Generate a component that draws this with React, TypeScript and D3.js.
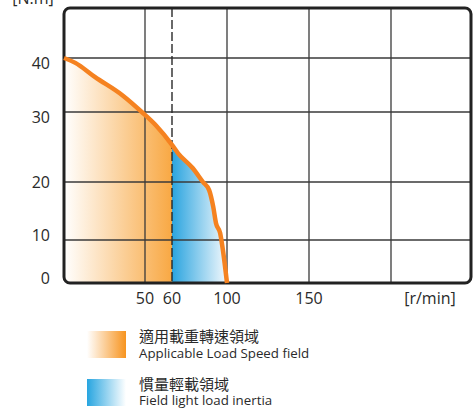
import React from "react";
import * as d3 from "d3";

const speedData = [0, 7, 19, 36, 48, 54, 60, 64.4, 75, 82.5, 87, 90, 92, 95, 97, 100];
const torqueData = [40, 39.1, 36.5, 33.1, 30, 28.1, 25.3, 24.1, 22, 20, 18.6, 15.7, 12.9, 11.2, 7.7, 0];

const xGridValues = [50, 100, 150, 200];
const xDashedValue = 60;
const yGridValues = [10, 20, 30, 40];
const xTickLabels = ["50", "60", "100", "150"];
const xTickValues = [50, 60, 100, 150];
const yTickLabels = ["0", "10", "20", "30", "40"];
const yTickValues = [0, 10, 20, 30, 40];
const yLabelOffsets = [-5, -5, 0, 5, 5];

const legendLabelsZh = ["適用載重轉速領域", "慣量輕載領域"];
const legendLabelsEn = ["Applicable Load Speed field", "Field light load inertia"];

const W = 473;
const H = 409;

export default function App() {
  const x = d3
    .scaleLinear()
    .domain([0, 50, 60, 100, 150, 200, 250])
    .range([64, 145, 172, 227, 309, 391, 471]);
  const y = d3
    .scaleLinear()
    .domain([0, 10, 20, 30, 40, 50])
    .range([283, 240, 182, 112, 58, 8]);

  const pts: [number, number][] = speedData.map((s, i) => [s, torqueData[i]]);
  const line = d3
    .line<[number, number]>()
    .x((d) => x(d[0]))
    .y((d) => y(d[1]))
    .curve(d3.curveMonotoneX);
  const area = d3
    .area<[number, number]>()
    .x((d) => x(d[0]))
    .y0(y(0))
    .y1((d) => y(d[1]))
    .curve(d3.curveMonotoneX);

  const font = "'Open Sans', 'Noto Sans', sans-serif";
  const cjk = "'Noto Sans CJK TC', 'Noto Sans CJK SC', sans-serif";

  return (
    <svg
      width={W}
      height={H}
      style={{ position: "fixed", left: 0, top: 0 }}
      xmlns="http://www.w3.org/2000/svg"
    >
      <defs>
        <linearGradient id="gOrange" gradientUnits="userSpaceOnUse" x1={x(0)} x2={x(60)} y1={0} y2={0}>
          <stop offset="0" stopColor="#ffffff" />
          <stop offset="1" stopColor="#f8a843" />
        </linearGradient>
        <linearGradient id="gBlue" gradientUnits="userSpaceOnUse" x1={x(60)} x2={x(100)} y1={0} y2={0}>
          <stop offset="0" stopColor="#2aa4df" />
          <stop offset="1" stopColor="#f4f9fd" />
        </linearGradient>
        <linearGradient id="lgOrange" x1="0" x2="1" y1="0" y2="0">
          <stop offset="0" stopColor="#ffffff" />
          <stop offset="1" stopColor="#f7941f" />
        </linearGradient>
        <linearGradient id="lgBlue" x1="0" x2="1" y1="0" y2="0">
          <stop offset="0" stopColor="#27a5e0" />
          <stop offset="1" stopColor="#ffffff" />
        </linearGradient>
        <clipPath id="cOrange">
          <rect x={x(0)} y={0} width={x(60) - x(0)} height={H} />
        </clipPath>
        <clipPath id="cBlue">
          <rect x={x(60)} y={0} width={x(100) - x(60) + 5} height={H} />
        </clipPath>
      </defs>

      <rect x={0} y={0} width={W} height={H} fill="#ffffff" />

      {/* fills */}
      <path d={area(pts) || ""} fill="url(#gOrange)" clipPath="url(#cOrange)" />
      <path d={area(pts) || ""} fill="url(#gBlue)" clipPath="url(#cBlue)" />

      {/* grid */}
      {yGridValues.map((v) => (
        <line key={"h" + v} x1={x(0)} x2={x(250)} y1={y(v)} y2={y(v)} stroke="#3a3a3a" strokeWidth={1.3} />
      ))}
      {xGridValues.map((v) => (
        <line key={"v" + v} x1={x(v)} x2={x(v)} y1={y(50)} y2={y(0)} stroke="#3a3a3a" strokeWidth={1.3} />
      ))}
      <line
        x1={x(xDashedValue)}
        x2={x(xDashedValue)}
        y1={y(50)}
        y2={y(0)}
        stroke="#2a2a2a"
        strokeWidth={1.4}
        strokeDasharray="9 3"
      />

      {/* frame */}
      <rect
        x={x(0)}
        y={y(50)}
        width={x(250) - x(0)}
        height={y(0) - y(50)}
        rx={6}
        ry={6}
        fill="none"
        stroke="#222222"
        strokeWidth={3}
      />

      {/* curve */}
      <path d={line(pts) || ""} fill="none" stroke="#f58220" strokeWidth={4.5} strokeLinejoin="round" />

      {/* y labels */}
      {yTickValues.map((v, i) => (
        <text
          key={"yl" + v}
          x={50}
          y={y(v) + yLabelOffsets[i]}
          dy="0.36em"
          textAnchor="end"
          fontFamily={font}
          fontSize={16}
          fill="#2a2a2a"
        >
          {yTickLabels[i]}
        </text>
      ))}
      {/* x labels */}
      {xTickValues.map((v, i) => (
        <text
          key={"xl" + v}
          x={x(v)}
          y={304}
          textAnchor="middle"
          fontFamily={font}
          fontSize={16}
          fill="#2a2a2a"
        >
          {xTickLabels[i]}
        </text>
      ))}
      <text x={430} y={304} textAnchor="middle" fontFamily={font} fontSize={16} fill="#2a2a2a">
        [r/min]
      </text>
      <text x={33} y={4} textAnchor="middle" fontFamily={font} fontSize={16} fill="#2a2a2a">
        [N.m]
      </text>

      {/* legend */}
      <rect x={87} y={331} width={39} height={27} fill="url(#lgOrange)" />
      <rect x={87} y={379} width={39} height={27} fill="url(#lgBlue)" />
      <text x={139} y={342} fontFamily={cjk} fontSize={15} fill="#2a2a2a">
        {legendLabelsZh[0]}
      </text>
      <text x={139} y={358} fontFamily={font} fontSize={13.3} fill="#2a2a2a">
        {legendLabelsEn[0]}
      </text>
      <text x={139} y={390} fontFamily={cjk} fontSize={15} fill="#2a2a2a">
        {legendLabelsZh[1]}
      </text>
      <text x={139} y={405} fontFamily={font} fontSize={13.3} fill="#2a2a2a">
        {legendLabelsEn[1]}
      </text>
    </svg>
  );
}
